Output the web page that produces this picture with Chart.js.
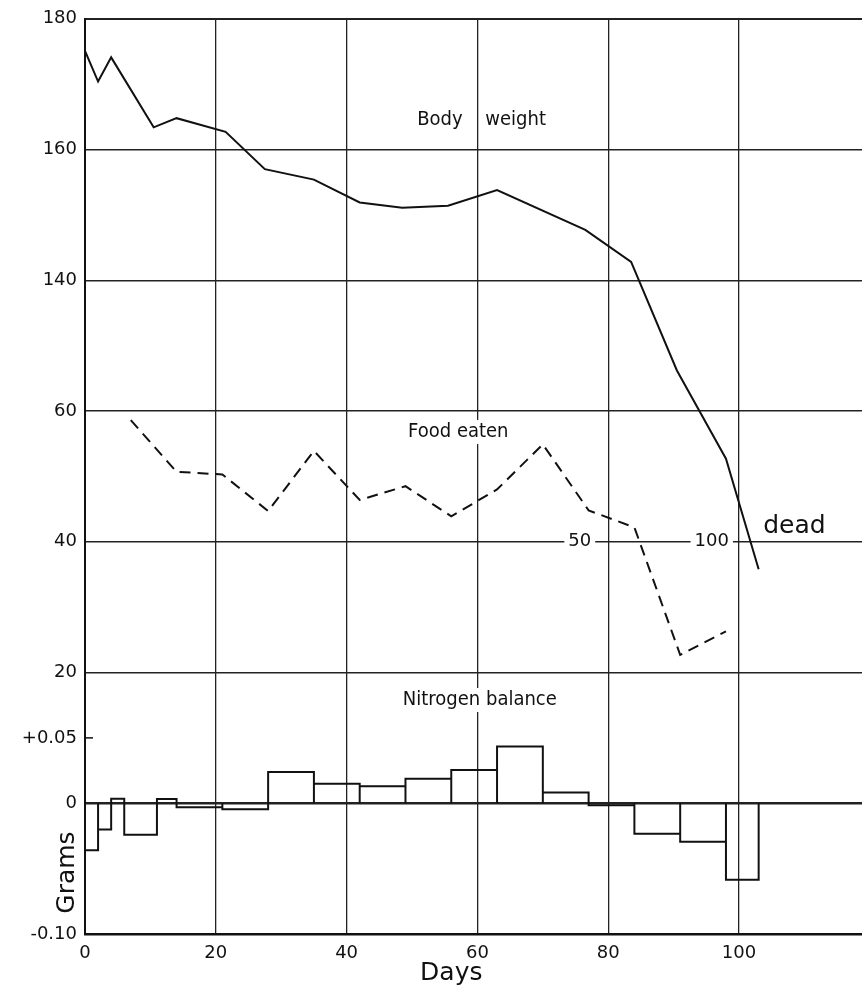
<!DOCTYPE html>
<html>
<head>
<meta charset="utf-8">
<script src="https://cdn.jsdelivr.net/npm/chart.js@4.4.0/dist/chart.umd.min.js"></script>
<style>
  html, body { margin: 0; padding: 0; background: #fff; }
  canvas { display: block; }
</style>
</head>
<body>
<canvas id="chart" width="862" height="996"></canvas>
<script>
// body weight (g)
const weightDays  = [0, 2, 4, 10.5, 14, 21.5, 27.5, 35, 42, 48.5, 55.5, 63, 76.5, 83.5, 90.5, 98, 103];
const weightGrams = [175.1, 170.4, 174.1, 163.4, 164.8, 162.7, 157.0, 155.4, 151.9, 151.1, 151.4, 153.8, 147.7, 142.8, 126.2, 112.7, 95.8];

// food eaten (g), dashed line
const foodDays  = [7, 14, 21, 28, 35, 42, 49, 56, 63, 70, 77, 84, 91, 98];
const foodGrams = [58.6, 50.7, 50.3, 44.7, 53.9, 46.4, 48.5, 43.9, 48.0, 54.9, 44.8, 42.2, 22.7, 26.3];

// nitrogen balance (g), one block per period
const nitrogenStart = [0, 2, 4, 6, 11, 14, 21, 28, 35, 42, 49, 56, 63, 70, 77, 84, 91, 98];
const nitrogenEnd   = [2, 4, 6, 11, 14, 21, 28, 35, 42, 49, 56, 63, 70, 77, 84, 91, 98, 103];
const nitrogenGrams = [-0.036, -0.020, 0.0035, -0.024, 0.0033, -0.003, -0.0046, 0.024, 0.015, 0.013, 0.0187,
                       0.0255, 0.0435, 0.0083, -0.0015, -0.0233, -0.0294, -0.0585];

// left axis labels, one per grid row from the bottom
const yTickLabels = ['-0.10', '0', '20', '40', '60', '140', '160', '180'];
const xTicks = [0, 20, 40, 60, 80, 100];

const INK = '#111';
const tickFont = { family: '"DejaVu Sans", sans-serif', size: 18 };
const noteFont = '"Liberation Sans Narrow", "DejaVu Sans Condensed", sans-serif';

function toPoints(xs, ys) {
    return xs.map((x, i) => ({ x: x, y: ys[i] }));
}

// outline of each nitrogen block: up, across, back down to zero
const nitrogenOutline = [];
nitrogenStart.forEach((s, i) => {
    nitrogenOutline.push({ x: s, y: 0 }, { x: s, y: nitrogenGrams[i] },
                         { x: nitrogenEnd[i], y: nitrogenGrams[i] }, { x: nitrogenEnd[i], y: 0 });
});

const labelsPlugin = {
    id: 'labels',
    beforeDatasetsDraw(chart) {
        const ctx = chart.ctx;
        const x = chart.scales.x;
        const y = chart.scales.y;

        function note(text, day, row, font, boxed) {
            ctx.save();
            ctx.font = font;
            ctx.textBaseline = 'middle';
            const px = x.getPixelForValue(day);
            const py = y.getPixelForValue(row);
            const w = ctx.measureText(text).width;
            if (boxed) {
                ctx.fillStyle = '#fff';
                ctx.fillRect(px - 4, py - 12, w + 8, 24);
            }
            ctx.fillStyle = INK;
            ctx.fillText(text, px, py);
            ctx.restore();
        }

        note('Body', 50.8, 6.23, '20px ' + noteFont, false);
        note('weight', 61.2, 6.23, '20px ' + noteFont, false);
        note('Food eaten', 49.4, 3.84, '20px ' + noteFont, true);
        note('Nitrogen balance', 48.6, 1.79, '20px ' + noteFont, true);
        note('50', 73.9, 3, '18px "DejaVu Sans", sans-serif', true);
        note('100', 93.2, 3, '18px "DejaVu Sans", sans-serif', true);
        note('dead', 103.7, 3.12, '25px "DejaVu Sans", sans-serif', false);

        // short inner tick for +0.05
        ctx.save();
        ctx.strokeStyle = INK;
        ctx.lineWidth = 1.5;
        const ty = y.getPixelForValue(1.5);
        ctx.beginPath();
        ctx.moveTo(chart.chartArea.left, ty);
        ctx.lineTo(chart.chartArea.left + 8, ty);
        ctx.stroke();
        ctx.restore();
    },
    afterDraw(chart) {
        const ctx = chart.ctx;
        ctx.save();
        ctx.fillStyle = INK;
        ctx.textAlign = 'center';
        ctx.textBaseline = 'middle';
        ctx.font = '25px "DejaVu Sans", sans-serif';
        ctx.fillText('Days', chart.scales.x.getPixelForValue(56), 973);
        ctx.translate(67, chart.scales.y.getPixelForValue(0.47));
        ctx.rotate(-Math.PI / 2);
        ctx.fillText('Grams', 0, 0);
        ctx.restore();
    }
};

new Chart(document.getElementById('chart'), {
    type: 'line',
    data: {
        datasets: [
            {
                label: 'Body weight',
                data: toPoints(weightDays, weightGrams),
                yAxisID: 'yWeight',
                borderColor: INK,
                borderWidth: 2,
                pointRadius: 0,
                tension: 0,
            },
            {
                label: 'Food eaten',
                data: toPoints(foodDays, foodGrams),
                yAxisID: 'yFood',
                borderColor: INK,
                borderWidth: 2,
                borderDash: [11, 7],
                pointRadius: 0,
                tension: 0,
            },
            {
                label: 'Nitrogen balance',
                data: nitrogenOutline,
                yAxisID: 'yNitrogen',
                borderColor: INK,
                borderWidth: 2,
                pointRadius: 0,
                tension: 0,
            },
        ],
    },
    options: {
        responsive: false,
        animation: false,
        layout: { padding: { top: 18, right: 0, left: 0, bottom: 0 } },
        plugins: { legend: { display: false }, tooltip: { enabled: false } },
        scales: {
            x: {
                type: 'linear',
                min: 0,
                max: 118.8,
                afterBuildTicks: (scale) => { scale.ticks = xTicks.map(v => ({ value: v })); },
                afterFit: (scale) => { scale.height = 62; },
                ticks: { color: INK, font: tickFont, padding: 9, maxRotation: 0 },
                grid: { color: '#222', lineWidth: 1.3, drawTicks: false },
                border: { color: INK, width: 2.5 },
            },
            y: {
                type: 'linear',
                min: 0,
                max: 7,
                afterBuildTicks: (scale) => {
                    scale.ticks = [0, 1, 1.5, 2, 3, 4, 5, 6, 7].map(v => ({ value: v }));
                },
                afterFit: (scale) => { scale.width = 85; },
                ticks: {
                    color: INK,
                    font: tickFont,
                    padding: 8,
                    callback: (v) => (v === 1.5 ? '+0.05' : yTickLabels[v]),
                },
                grid: {
                    drawTicks: false,
                    color: (c) => (c.tick && c.tick.value === 1.5 ? 'rgba(0,0,0,0)' : '#222'),
                    lineWidth: (c) => {
                        if (!c.tick) return 1.3;
                        if (c.tick.value === 1) return 2.5;
                        if (c.tick.value === 7 || c.tick.value === 0) return 2;
                        return 1.4;
                    },
                },
                border: { color: INK, width: 2 },
            },
            yWeight: { type: 'linear', display: false, min: 40, max: 180 },
            yFood: { type: 'linear', display: false, min: -20, max: 120 },
            yNitrogen: { type: 'linear', display: false, min: -0.10, max: 0.60 },
        },
    },
    plugins: [labelsPlugin],
});
</script>
</body>
</html>
